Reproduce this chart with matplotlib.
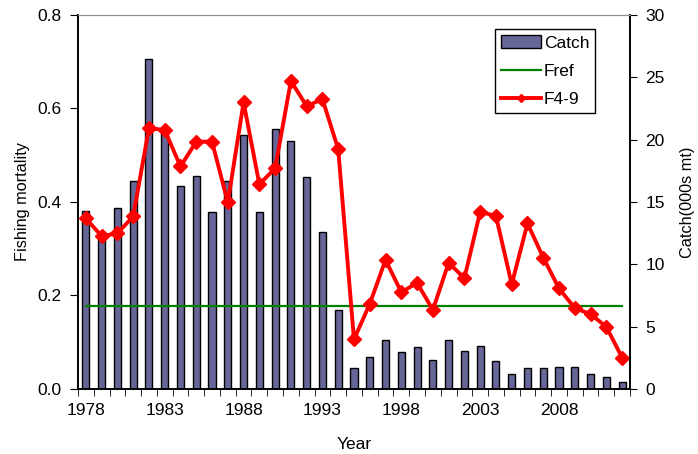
import numpy as np
from matplotlib import pyplot as plt

plt.rc('font', family='Liberation Sans', size=12.5)

# data
years = list(range(1978, 2013))
catch = [14.3, 12.6, 14.5, 16.7, 26.5, 20.6, 16.3, 17.1, 14.2, 16.7,
         20.4, 14.2, 20.85, 19.9, 17.0, 12.6, 6.3, 1.66, 2.57, 3.93,
         2.94, 3.37, 2.35, 3.93, 3.02, 3.47, 2.25, 1.23, 1.66, 1.66,
         1.79, 1.79, 1.23, 0.99, 0.53]
f49 = [0.365, 0.327, 0.333, 0.369, 0.558, 0.554, 0.476, 0.529, 0.529, 0.399,
       0.613, 0.438, 0.472, 0.659, 0.605, 0.620, 0.513, 0.106, 0.182, 0.276,
       0.207, 0.227, 0.169, 0.270, 0.237, 0.379, 0.370, 0.224, 0.354, 0.281,
       0.215, 0.173, 0.160, 0.133, 0.067]
fref = 0.178
label_years = [1978, 1983, 1988, 1993, 1998, 2003, 2008]

x = np.arange(len(years))

fig = plt.figure(figsize=(6.98, 4.54), dpi=100)
ax1 = fig.add_axes([0.1117, 0.1432, 0.7909, 0.8238])  # catch bars (right scale)
ax2 = ax1.twinx()  # fishing mortality (left scale)

bars = ax1.bar(x, catch, width=0.45, color='#666699', edgecolor='black', linewidth=1, label='Catch')
ax1.set_ylim(0, 30)
ax1.set_yticks([0, 5, 10, 15, 20, 25, 30])
ax1.yaxis.tick_right()
ax1.yaxis.set_label_position('right')
ax1.set_ylabel('Catch(000s mt)', fontsize=11.7, labelpad=11)

ln_ref, = ax2.plot([x[0], x[-1]], [fref, fref], color='#008000', linewidth=1.6, label='Fref')
ln_f, = ax2.plot(x, f49, color='red', linewidth=2.8, marker='D', markersize=7.5, label='F4-9')
ax2.set_ylim(0, 0.8)
ax2.set_yticks([0, 0.2, 0.4, 0.6, 0.8])
ax2.set_yticklabels(['0.0', '0.2', '0.4', '0.6', '0.8'])
ax2.yaxis.tick_left()
ax2.yaxis.set_label_position('left')
ax2.set_ylabel('Fishing mortality', fontsize=11.7, labelpad=5)

ax1.set_xlim(-0.5, len(years) - 0.5)
ax1.set_xticks([years.index(y) for y in label_years])
ax1.set_xticklabels([str(y) for y in label_years])
ax1.set_xticks(np.arange(-0.5, len(years), 1), minor=True)
ax1.tick_params(axis='x', which='major', length=0, pad=10)
ax1.tick_params(axis='x', which='minor', length=5, direction='out', color='black')
ax1.tick_params(axis='y', length=5, direction='out', pad=6)
ax2.tick_params(axis='y', length=6, direction='out', pad=6)
ax1.set_xlabel('Year', labelpad=14)

for a in (ax1, ax2):
    a.spines['top'].set_color('#909090')
    a.spines['left'].set_linewidth(1.2)
    a.spines['right'].set_linewidth(1.2)
    a.spines['bottom'].set_linewidth(1.2)

leg = ax2.legend([bars, ln_ref, ln_f], ['Catch', 'Fref', 'F4-9'],
                 loc='upper left', bbox_to_anchor=(0.74, 0.985), fancybox=False,
                 edgecolor='black', framealpha=1, handlelength=2.3, borderpad=0.35,
                 labelspacing=0.75, handletextpad=0.15, markerscale=0.55)
leg.get_frame().set_linewidth(1)

plt.savefig('out.png', dpi=100)
